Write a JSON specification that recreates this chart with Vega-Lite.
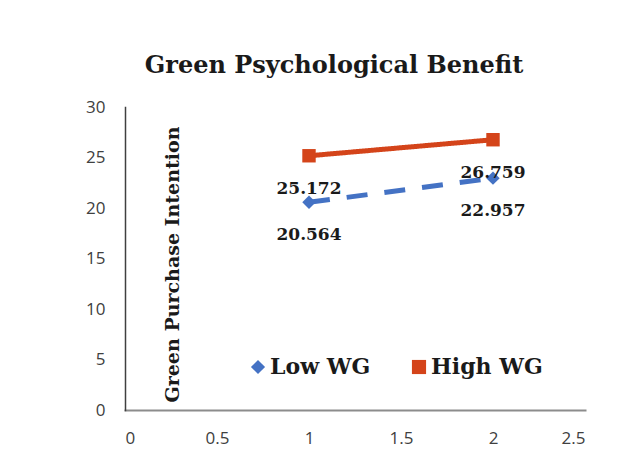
{
  "$schema": "https://vega.github.io/schema/vega-lite/v6.json",
  "autosize": {"type": "none"},
  "width": 460,
  "height": 303,
  "padding": {"left": 125, "top": 107, "right": 53, "bottom": 44},
  "background": "white",
  "title": {
    "text": "Green Psychological Benefit",
    "font": "DejaVu Serif",
    "fontWeight": "bold",
    "fontSize": 24,
    "color": "#1a1a1a",
    "anchor": "middle",
    "dx": -21,
    "baseline": "alphabetic",
    "offset": 1
  },
  "config": {
    "view": {"stroke": null},
    "axis": {"grid": false, "ticks": false, "domainCap": "square"}
  },
  "data": {
    "values": [
      {"wg": "Low WG", "x": 1, "y": 20.564},
      {"wg": "Low WG", "x": 2, "y": 22.957},
      {"wg": "High WG", "x": 1, "y": 25.172},
      {"wg": "High WG", "x": 2, "y": 26.759}
    ]
  },
  "encoding": {
    "x": {
      "field": "x",
      "type": "quantitative",
      "scale": {"domain": [0, 2.5], "nice": false},
      "axis": {
        "title": null,
        "values": [0, 0.5, 1, 1.5, 2, 2.5],
        "format": "~g",
        "labelFont": "Open Sans",
        "labelFontSize": 17,
        "labelColor": "#404040",
        "labelPadding": 20,
        "domainColor": "#8c8c8c",
        "domainWidth": 2
      }
    },
    "y": {
      "field": "y",
      "type": "quantitative",
      "scale": {"domain": [0, 30], "nice": false},
      "axis": {
        "title": "Green Purchase Intention",
        "titleFont": "DejaVu Serif",
        "titleFontWeight": "bold",
        "titleFontSize": 19,
        "titleColor": "#1a1a1a",
        "titleAngle": 270,
        "titleAlign": "center",
        "titleBaseline": "middle",
        "titleX": 47,
        "titleY": 157,
        "values": [0, 5, 10, 15, 20, 25, 30],
        "labelFont": "Open Sans",
        "labelFontSize": 17,
        "labelColor": "#404040",
        "labelPadding": 20,
        "domainColor": "#404040",
        "domainWidth": 1.5
      }
    }
  },
  "layer": [
    {
      "mark": {"type": "line", "strokeWidth": 5},
      "encoding": {
        "stroke": {
          "field": "wg",
          "type": "nominal",
          "scale": {"range": ["#D4441A", "#4472C4"]},
          "legend": null
        },
        "strokeDash": {
          "field": "wg",
          "type": "nominal",
          "scale": {"range": [[1, 0], [21, 17]]},
          "legend": null
        }
      }
    },
    {
      "mark": {"type": "point", "filled": true, "opacity": 1},
      "encoding": {
        "color": {
          "field": "wg",
          "type": "nominal",
          "scale": {"domain": ["Low WG", "High WG"], "range": ["#4472C4", "#D4441A"]},
          "legend": {
            "title": null,
            "orient": "none",
            "direction": "horizontal",
            "legendX": 122,
            "legendY": 249,
            "labelFont": "DejaVu Serif",
            "labelFontWeight": "bold",
            "labelFontSize": 22,
            "labelColor": "#1a1a1a",
            "labelOffset": 1,
            "columnPadding": 37,
            "symbolSize": 200,
            "symbolStrokeWidth": 0
          }
        },
        "shape": {
          "field": "wg",
          "type": "nominal",
          "scale": {"domain": ["Low WG", "High WG"], "range": ["diamond", "square"]},
          "legend": {
            "title": null,
            "orient": "none",
            "direction": "horizontal",
            "legendX": 122,
            "legendY": 249,
            "labelFont": "DejaVu Serif",
            "labelFontWeight": "bold",
            "labelFontSize": 22,
            "labelColor": "#1a1a1a",
            "labelOffset": 1,
            "columnPadding": 37,
            "symbolSize": 200,
            "symbolStrokeWidth": 0
          }
        },
        "size": {"value": 180}
      }
    },
    {
      "mark": {
        "type": "text",
        "font": "DejaVu Serif",
        "fontWeight": "bold",
        "fontSize": 17,
        "color": "#1a1a1a",
        "align": "center",
        "baseline": "middle",
        "dy": 33
      },
      "encoding": {
        "text": {"field": "y", "type": "quantitative", "format": ".3f"}
      }
    }
  ]
}
